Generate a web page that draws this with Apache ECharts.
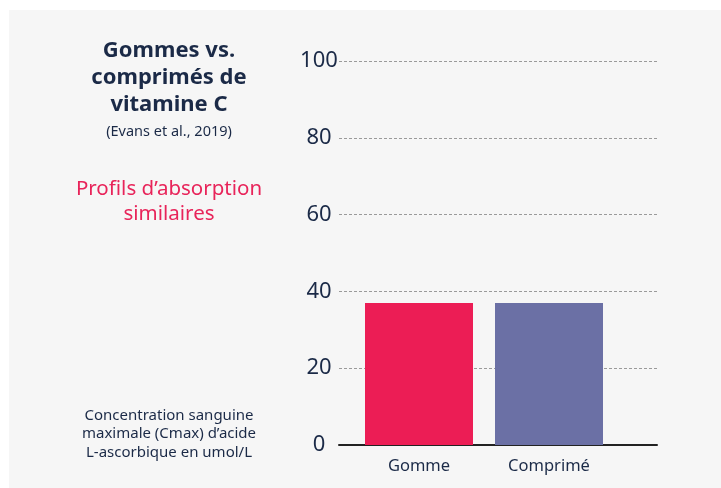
<!DOCTYPE html>
<html>
<head>
<meta charset="utf-8">
<script src="https://cdn.jsdelivr.net/npm/echarts@6/dist/echarts.min.js"></script>
<style>
    html, body {margin: 0; padding: 0; background: #ffffff;}
    #panel {position: absolute; left: 9px; top: 10px; width: 712px; height: 478px; background: #f6f6f6;}
    #chart {position: absolute; left: 0; top: 0; width: 721px; height: 488px;}
</style>
</head>
<body>
<div id="panel"></div>
<div id="chart"></div>
<script>
    // donnees
    var categories = ['Gomme', 'Comprimé'];
    var values = [37, 37];
    var barColors = ['#ec1d55', '#6b70a5'];
    var yTicks = {min: 0, max: 100, interval: 20};

    var navy = '#1b2a47';
    var font = 'Noto Sans';

    var option = {
        backgroundColor: 'transparent',
        textStyle: {fontFamily: font},
        title: [
            {
                text: 'Gommes vs.\ncomprimés de\nvitamine C',
                left: 169,
                top: 37,
                textAlign: 'center',
                padding: 0,
                textStyle: {fontSize: 22, fontWeight: 'bold', color: navy, lineHeight: 27, fontFamily: font}
            },
            {
                text: '(Evans et al., 2019)',
                left: 169,
                top: 124,
                textAlign: 'center',
                padding: 0,
                textStyle: {fontSize: 14.5, fontWeight: 'normal', color: navy, fontFamily: font}
            },
            {
                text: 'Profils d’absorption\nsimilaires',
                left: 169,
                top: 176,
                textAlign: 'center',
                padding: 0,
                textStyle: {fontSize: 20.5, fontWeight: 'normal', color: '#e8245a', lineHeight: 25.5, fontFamily: font}
            },
            {
                text: 'Concentration sanguine\nmaximale (Cmax) d’acide\nL-ascorbique en umol/L',
                left: 169,
                top: 406,
                textAlign: 'center',
                padding: 0,
                textStyle: {fontSize: 15, fontWeight: 'normal', color: navy, lineHeight: 18.5, fontFamily: font}
            }
        ],
        grid: [
            {left: 339, right: 64, top: 61, bottom: 43},
            {left: 354, width: 260, top: 61, bottom: 43}
        ],
        xAxis: [
            {
                gridIndex: 0,
                type: 'value',
                min: 0,
                max: 1,
                axisLine: {show: true, onZero: false, lineStyle: {color: '#222222', width: 2}},
                axisTick: {show: false},
                axisLabel: {show: false},
                splitLine: {show: false}
            },
            {
                gridIndex: 1,
                type: 'category',
                data: categories,
                axisLine: {show: false},
                axisTick: {show: false},
                axisLabel: {color: navy, fontSize: 16.5, margin: 13, fontFamily: font}
            }
        ],
        yAxis: [
            {
                gridIndex: 0,
                type: 'value',
                min: yTicks.min,
                max: yTicks.max,
                interval: yTicks.interval,
                axisLine: {show: false},
                axisTick: {show: false},
                axisLabel: {color: navy, fontSize: 22, align: 'center', margin: 20, padding: [3, 0, 0, 0], fontFamily: font},
                splitLine: {show: true, lineStyle: {color: '#9a9a9a', type: [3, 2], width: 1}}
            },
            {
                gridIndex: 1,
                type: 'value',
                min: yTicks.min,
                max: yTicks.max,
                show: false
            }
        ],
        series: [{
            type: 'bar',
            xAxisIndex: 1,
            yAxisIndex: 1,
            barWidth: 108,
            z: 1,
            data: values.map(function (v, i) {
                return {value: v, itemStyle: {color: barColors[i]}};
            })
        }]
    };

    var chart = echarts.init(document.getElementById('chart'));
    chart.setOption(option);
</script>
</body>
</html>
